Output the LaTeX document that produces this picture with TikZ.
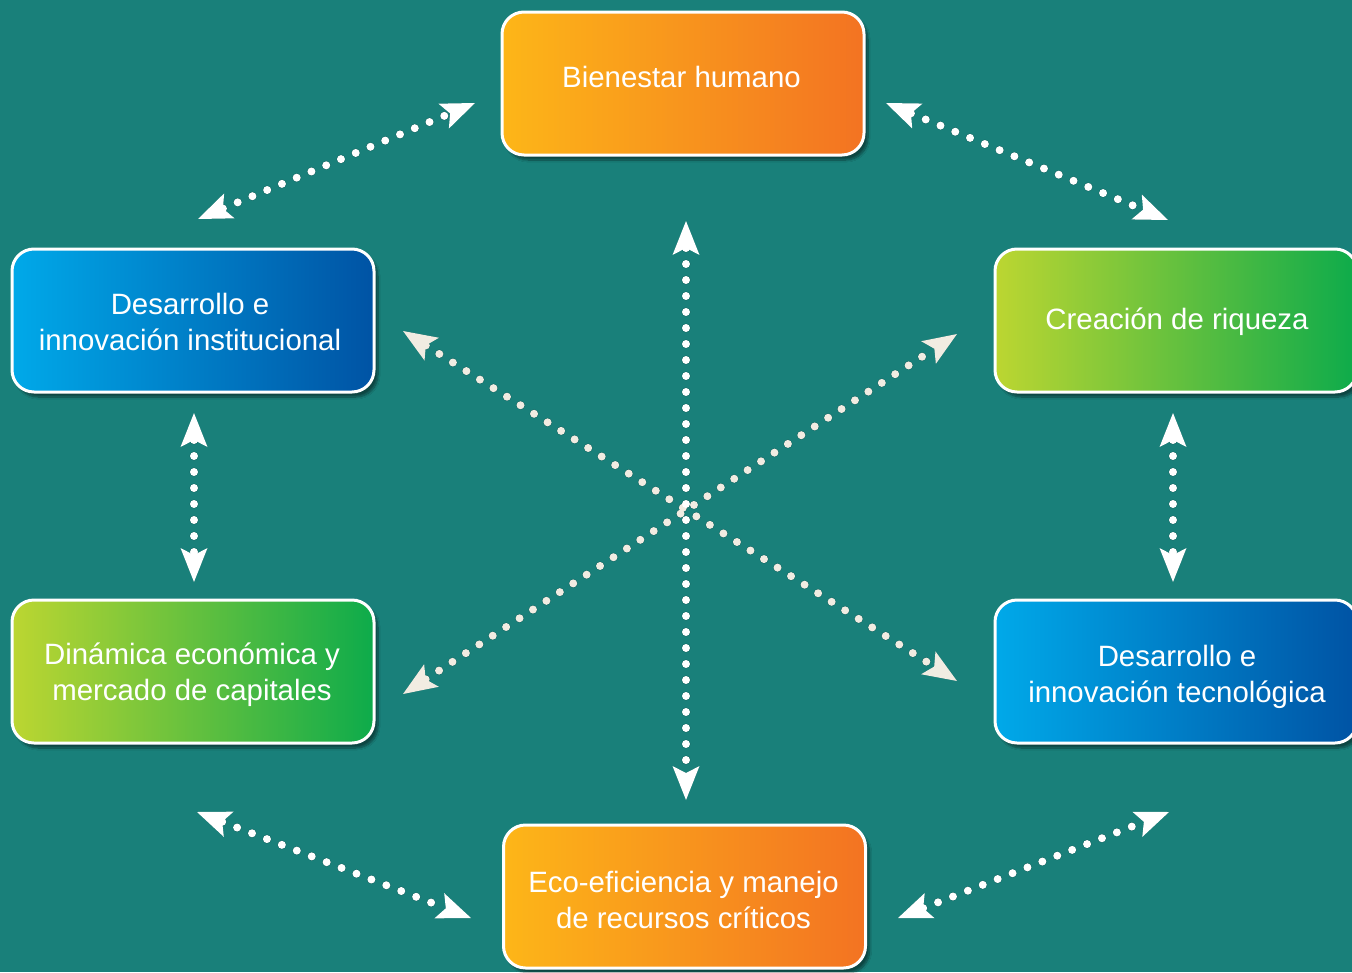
\documentclass[tikz,border=0pt]{standalone}
\usepackage{fontspec}
\setmainfont{Liberation Sans}
\usetikzlibrary{arrows.meta,shadows.blur}
\definecolor{bg}{HTML}{19807A}
\definecolor{orL}{HTML}{FDB618}
\definecolor{orR}{HTML}{F37322}
\definecolor{blL}{HTML}{00A9E9}
\definecolor{blR}{HTML}{0053A4}
\definecolor{grL}{HTML}{BCD631}
\definecolor{grR}{HTML}{0DAB4B}
\definecolor{cream}{HTML}{F1ECE2}
\tikzset{
  box/.style={draw=white, line width=3pt, rounded corners=22pt,
    minimum width=362pt, minimum height=143pt, inner sep=0pt,
    blur shadow={shadow xshift=4pt, shadow yshift=-5pt, shadow blur steps=10, shadow opacity=45}},
  orangebox/.style={box, left color=orL, right color=orR},
  bluebox/.style={box, left color=blL, right color=blR},
  greenbox/.style={box, left color=grL, right color=grR},
  lbl/.style={text=white, align=center, inner sep=0pt,
    font=\fontsize{29.4}{36}\selectfont},
  >={Stealth[length=34pt,width=27pt,inset=7pt,line width=0pt]},
  dotline/.style={<->, line width=8pt, line cap=round, dash pattern=on 0pt off 16pt, draw=white},
  creamline/.style={dotline, draw=cream},
  shade/.style={<->, line width=9pt, line cap=round, dash pattern=on 0pt off 16pt,
    draw=black, opacity=0.22, shift={(4pt,-5pt)}},
}
\begin{document}
\begin{tikzpicture}[x=1pt,y=-1pt]
\fill[bg] (0,0) rectangle (1352,972);
\useasboundingbox (0,0) rectangle (1352,972);
\clip (0,0) rectangle (1352,972);

% arrow end points
\coordinate (a1s) at (198,219);  \coordinate (a1e) at (475,103);
\coordinate (a2s) at (886,103);  \coordinate (a2e) at (1168,220);
\coordinate (a3s) at (194,413);  \coordinate (a3e) at (194,582);
\coordinate (a4s) at (1173,413); \coordinate (a4e) at (1173,582);
\coordinate (a5s) at (197,812);  \coordinate (a5e) at (471,918);
\coordinate (a6s) at (898,918);  \coordinate (a6e) at (1169,812);
\coordinate (a7s) at (686,221);  \coordinate (a7e) at (686,800);
\coordinate (a8s) at (403,331);  \coordinate (a8e) at (957,681);
\coordinate (a9s) at (403,694);  \coordinate (a9e) at (957,334);

% shadows of arrows
\foreach \i in {1,...,9}{
  \draw[shade] (a\i s) -- (a\i e);
}

% arrows
\draw[dotline] (a1s) -- (a1e);
\draw[dotline] (a2s) -- (a2e);
\draw[dotline] (a3s) -- (a3e);
\draw[dotline] (a4s) -- (a4e);
\draw[dotline] (a5s) -- (a5e);
\draw[dotline] (a6s) -- (a6e);
\draw[creamline] (a8s) -- (a8e);
\draw[creamline] (a9s) -- (a9e);
\draw[dotline] (a7s) -- (a7e);

% boxes
\node[orangebox] (bien) at (683,83.5) {};
\node[bluebox]   (inst) at (193,320.5) {};
\node[greenbox]  (riq)  at (1176,320.5) {};
\node[greenbox]  (din)  at (193,671.5) {};
\node[bluebox]   (tec)  at (1176,671.5) {};
\node[orangebox] (eco)  at (684.5,896.5) {};

% texts
\node[lbl] (bienT) at ([xshift=-1.5pt,yshift=7pt]bien.center) {Bienestar humano};
\node[lbl] (instT) at ([xshift=-3pt,yshift=-1.5pt]inst.center) {Desarrollo e\\innovación institucional};
\node[lbl] (riqT)  at ([xshift=1pt,yshift=-1pt]riq.center) {Creación de riqueza};
\node[lbl] (dinT)  at ([xshift=-1pt,yshift=-3pt]din.center) {Dinámica económica y\\mercado de capitales};
\node[lbl] (tecT)  at ([xshift=1pt,yshift=-5pt]tec.center) {Desarrollo e\\innovación tecnológica};
\node[lbl] (ecoT)  at ([xshift=-1pt,yshift=-3.5pt]eco.center) {Eco-eficiencia y manejo\\de recursos críticos};
\end{tikzpicture}
\end{document}
